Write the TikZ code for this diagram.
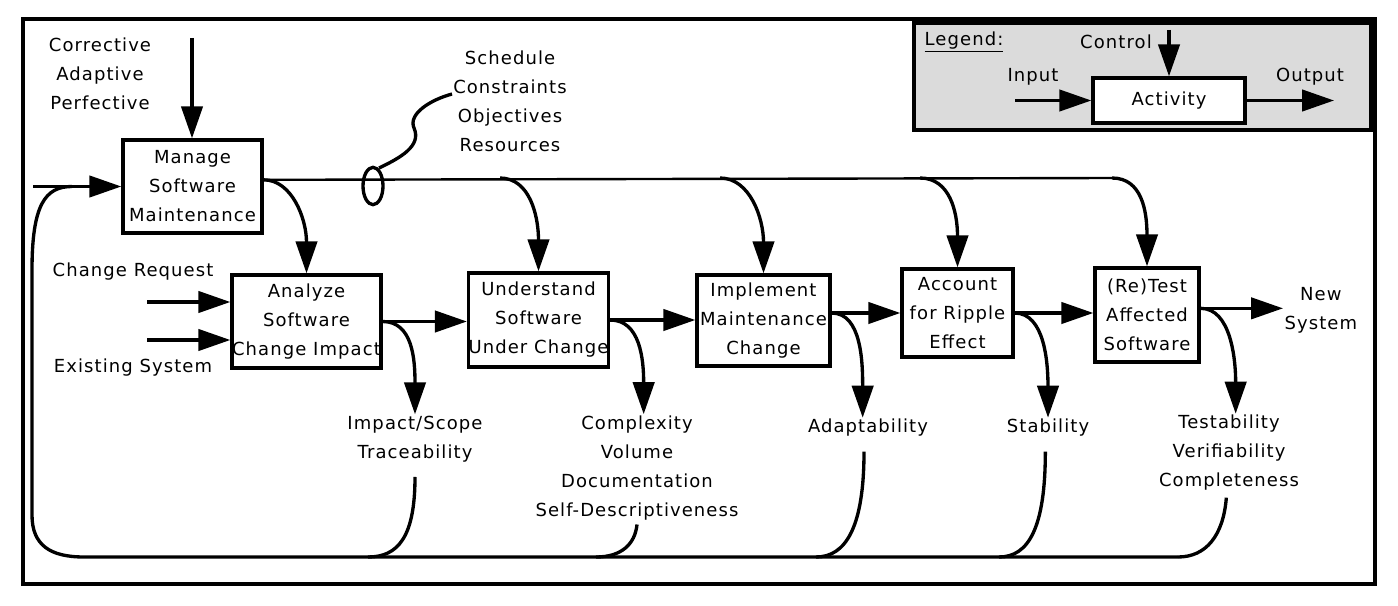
\documentclass[tikz,border=0pt]{standalone}
\usepackage{fontspec}
\setmainfont{DejaVu Sans}[LetterSpace=6]
\usetikzlibrary{arrows.meta}
\begin{document}
\begin{tikzpicture}[x=0.75pt,y=-0.75pt,
  lbl/.style={font=\fontsize{13.5}{21.75}\selectfont, align=center, inner sep=1pt},
  act/.style={draw, line width=2.5pt, lbl, inner sep=0pt, fill=white},
  arr/.style={line width=2.5pt, -{Triangle[length=24pt,width=16pt]}},
  ln/.style={line width=2.5pt},
  ctl/.style={line width=1.8pt}]
\useasboundingbox (0,0) rectangle (1398,606);
% outer frame
\draw[line width=2.3pt] (23,19) rectangle (1375,584);
% legend
\draw[line width=2.5pt, fill=gray!28] (914,23) rectangle (1371,130);
\node[lbl] (lg) at (964,42) {\underline{Legend:}};
\node[act, minimum width=114pt, minimum height=33.75pt] (la) at (1169,100.5) {Activity};
\node[lbl] (lc) at (1116,42) {Control};
\node[lbl] (li) at (1033,77) {Input};
\node[lbl] (lo) at (1310,77) {Output};
\coordinate (lci) at (1169,30);
\coordinate (lii) at (1015,100.5);
\coordinate (loo) at (1334,100.5);
\draw[arr] (lci) -- (la.north);
\draw[arr] (lii) -- (la.west);
\draw[arr] (la.east) -- (loo);

% activity boxes
\node[act, minimum width=104.25pt, minimum height=69.75pt] (mg) at (192.5,186.5) {Manage\\Software\\Maintenance};
\node[act, minimum width=111.75pt, minimum height=69.75pt] (an) at (306.5,321.5) {Analyze\\Software\\Change Impact};
\node[act, minimum width=104.25pt, minimum height=70.5pt] (un) at (538.5,320) {Understand\\Software\\Under Change};
\node[act, minimum width=99.75pt, minimum height=68.25pt] (im) at (763.5,320.5) {Implement\\Maintenance\\Change};
\node[act, minimum width=83.25pt, minimum height=66pt] (ac) at (957.5,313) {Account\\for Ripple\\Effect};
\node[act, minimum width=78pt, minimum height=70.5pt] (rt) at (1147,315) {(Re)Test\\Affected\\Software};

% labels
\node[lbl] (ty) at (100,74) {Corrective\\Adaptive\\Perfective};
\node[lbl] (sc) at (510,101) {Schedule\\Constraints\\Objectives\\Resources};
\node[lbl] (cr) at (133,272) {Change Request};
\node[lbl] (es) at (133,368) {Existing System};
\node[lbl] (is) at (415,439) {Impact/Scope\\Traceability};
\node[lbl] (cx) at (637,468) {Complexity\\Volume\\Documentation\\Self-Descriptiveness};
\node[lbl] (ad) at (868,428) {Adaptability};
\node[lbl] (st) at (1048,428) {Stability};
\node[lbl] (tv) at (1229,453) {Testability\\Verifiability\\Completeness};
\node[lbl, anchor=west] (ns) at (1283,310) {New\\System};

% controls
\coordinate (ctop) at (192,38);
\draw[arr] (ctop) -- (ctop |- mg.north);
\coordinate (mgo) at ([yshift=5pt]mg.east);
\coordinate (b1) at (500,178);
\coordinate (b2) at (720,178);
\coordinate (b3) at (920,178);
\coordinate (b4) at (1112,178);
\draw[ctl] (mgo) -- (b4);
\draw[arr] (mgo) .. controls +(28,0) and +(0,-55) .. (an.north);
\draw[arr] (b1) .. controls +(30,0) and +(0,-55) .. (un.north);
\draw[arr] (b2) .. controls +(30,0) and +(0,-55) .. (im.north);
\draw[arr] (b3) .. controls +(30,0) and +(0,-55) .. (ac.north);
\draw[arr] (b4) .. controls +(30,0) and +(0,-55) .. (rt.north);
% bundle ellipse and squiggle
\draw[ln] (373,186) ellipse [x radius=7.5pt, y radius=14pt];
\coordinate (sq) at (452,94);
\draw[ln] (379,168) .. controls (400,158) and (422,146) .. (414,128)
  .. controls (408,114) and (430,100) .. (sq);

% inputs
\coordinate (min) at (33,186.5);
\draw[arr] (min) -- (mg.west);
\coordinate (crs) at (147,302);
\coordinate (ess) at (147,340);
\draw[arr] (crs) -- (crs -| an.west);
\draw[arr] (ess) -- (ess -| an.west);

% main flow
\coordinate (imo) at (ac.east -| im.east);
\coordinate (rto) at ([yshift=5pt]rt.east);
\draw[arr] (an.east) -- (an.east -| un.west);
\draw[arr] (un.east) -- (un.east -| im.west);
\draw[arr] (imo) -- (ac.west);
\draw[arr] (ac.east) -- (ac.east -| rt.west);
\draw[arr] (rto) -- (rto -| ns.west);

% outputs
\draw[arr] (an.east) .. controls +(30,0) and +(0,-55) .. (is.north);
\draw[arr] (un.east) .. controls +(30,0) and +(0,-55) .. ([xshift=5pt]cx.north);
\draw[arr] (imo) .. controls +(30,0) and +(0,-55) .. ([xshift=-4pt]ad.north);
\draw[arr] (ac.east) .. controls +(30,0) and +(0,-55) .. (st.north);
\draw[arr] (rto) .. controls +(30,0) and +(0,-55) .. ([xshift=5pt]tv.north);

% feedback
\coordinate (f1) at (368,557);
\coordinate (f2) at (596,557);
\coordinate (f3) at (816,557);
\coordinate (f4) at (999,557);
\coordinate (f5) at (1178,557);
\coordinate (fbj) at (72,186.5);
\draw[ln] ([yshift=-10pt]is.south) .. controls +(0,60) and +(30,0) .. (f1);
\draw[ln] ([yshift=-2pt]cx.south) .. controls +(-2,20) and +(25,0) .. (f2);
\draw[ln] ([yshift=-10pt,xshift=-3pt]ad.south) .. controls +(0,75) and +(30,0) .. (f3);
\draw[ln] ([yshift=-10pt,xshift=-2pt]st.south) .. controls +(0,75) and +(30,0) .. (f4);
\draw[ln] ([yshift=-4pt,xshift=-2pt]tv.south) .. controls +(-3,38) and +(28,0) .. (f5);
\draw[ln] (f5) -- (84,557) .. controls (50,557) and (32,545) .. (32,515)
  -- (32,270) .. controls (32,205) and (45,186.5) .. (fbj);
\end{tikzpicture}
\end{document}
